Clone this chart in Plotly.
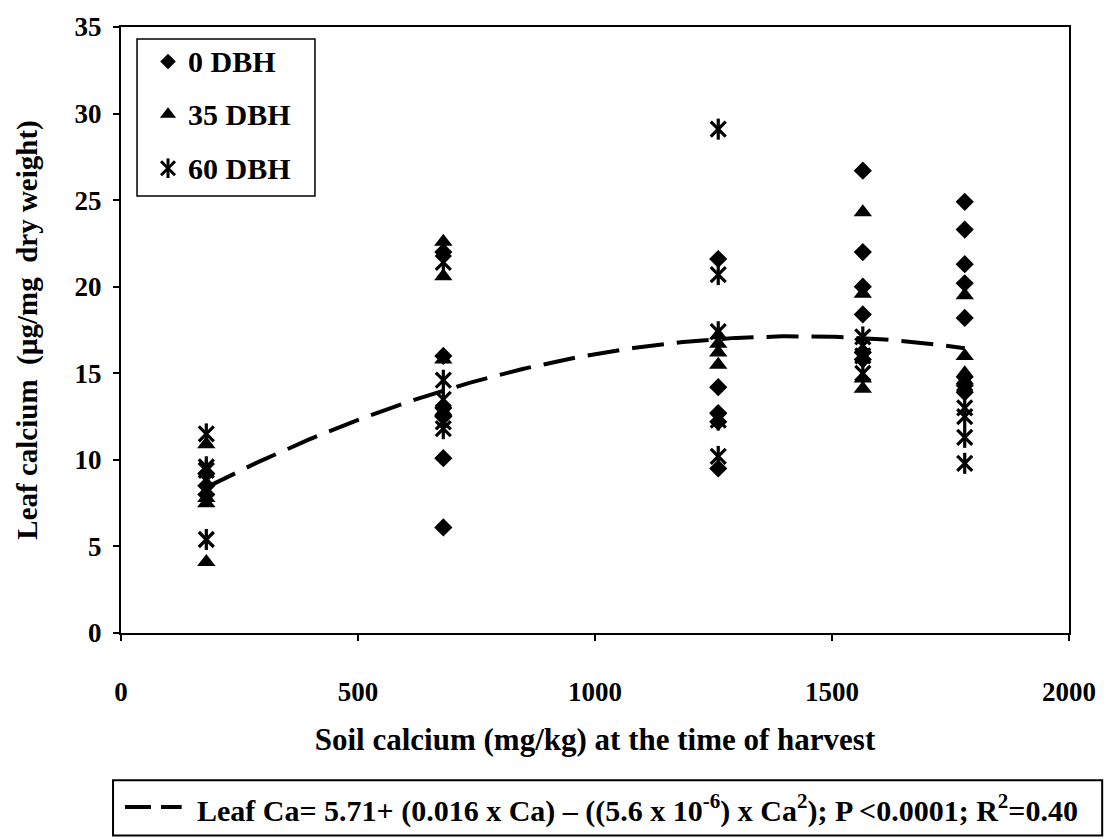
import numpy as np
import plotly.graph_objects as go

# Soil calcium levels (mg/kg) at harvest
soil_ca = [180, 680, 1260, 1565, 1780]

# Leaf calcium (ug/mg dry weight) per soil level, by days before harvest
dbh0 = {
    180: [8.0, 8.5, 9.2],
    680: [6.1, 10.1, 12.5, 13.0, 16.0, 22.0],
    1260: [9.5, 12.2, 12.7, 14.2, 21.6],
    1565: [15.8, 16.2, 18.4, 20.0, 22.0, 26.7],
    1780: [13.9, 14.3, 18.2, 20.2, 21.3, 23.3, 24.9],
}
dbh35 = {
    180: [4.1, 7.5, 7.8, 10.9],
    680: [12.8, 15.8, 20.6, 22.6],
    1260: [15.5, 16.2, 16.7, 17.2],
    1565: [14.1, 14.7, 19.6, 24.3],
    1780: [14.6, 15.0, 16.0, 19.5],
}
dbh60 = {
    180: [5.4, 9.4, 9.6, 11.5],
    680: [11.8, 12.2, 13.5, 14.6, 21.4],
    1260: [10.2, 12.3, 17.4, 20.7, 29.1],
    1565: [15.0, 16.0, 16.6, 17.1],
    1780: [9.8, 11.3, 12.5, 13.0, 14.4],
}

# Quadratic fit: Leaf Ca = b0 + b1*Ca - b2*Ca^2
b0, b1, b2 = 5.71, 0.016, 5.6e-6

legend_labels = ["0 DBH", "35 DBH", "60 DBH"]

FONT = "Liberation Serif"
BLACK = "#000000"


def flatten(d):
    xs, ys = [], []
    for k in soil_ca:
        for v in d[k]:
            xs.append(k)
            ys.append(v)
    return xs, ys


fig = go.Figure()

x0, y0 = flatten(dbh0)
x35, y35 = flatten(dbh35)
x60, y60 = flatten(dbh60)

# Fitted curve
fit_x = np.linspace(soil_ca[0], soil_ca[-1], 200)
fit_y = b0 + b1 * fit_x - b2 * fit_x ** 2
fig.add_trace(go.Scatter(x=fit_x, y=fit_y, mode="lines",
                         line=dict(color=BLACK, width=4, dash="32px,13px"),
                         showlegend=False, hoverinfo="skip"))

fig.add_trace(go.Scatter(x=x0, y=y0, mode="markers", name=legend_labels[0],
                         marker=dict(symbol="diamond", size=14, color=BLACK),
                         showlegend=False))
fig.add_trace(go.Scatter(x=x35, y=y35, mode="markers", name=legend_labels[1],
                         marker=dict(symbol="triangle-up", size=16, color=BLACK),
                         showlegend=False))
# Star marker built from an X plus a vertical bar
for sym in ["x-thin-open", "line-ns-open"]:
    fig.add_trace(go.Scatter(x=x60, y=y60, mode="markers", name=legend_labels[2],
                             marker=dict(symbol=sym, size=15, color=BLACK,
                                         line=dict(color=BLACK, width=3.2)),
                             showlegend=False))

# Legend drawn on an overlay axis spanning the plot area
leg_x = 0.0496
leg_y = [0.943, 0.856, 0.767]
fig.add_trace(go.Scatter(x=[leg_x], y=[leg_y[0]], xaxis="x2", yaxis="y2", mode="markers",
                         marker=dict(symbol="diamond", size=12, color=BLACK),
                         showlegend=False, hoverinfo="skip"))
fig.add_trace(go.Scatter(x=[leg_x], y=[leg_y[1]], xaxis="x2", yaxis="y2", mode="markers",
                         marker=dict(symbol="triangle-up", size=14, color=BLACK),
                         showlegend=False, hoverinfo="skip"))
for sym in ["x-thin-open", "line-ns-open"]:
    fig.add_trace(go.Scatter(x=[leg_x], y=[leg_y[2]], xaxis="x2", yaxis="y2", mode="markers",
                             marker=dict(symbol=sym, size=14, color=BLACK,
                                         line=dict(color=BLACK, width=3)),
                             showlegend=False, hoverinfo="skip"))

annotations = []
for lbl, yy in zip(legend_labels, leg_y):
    annotations.append(dict(x=0.0685, y=yy, xref="paper", yref="paper", text=f"<b>{lbl}</b>",
                            showarrow=False, xanchor="left", yanchor="middle",
                            font=dict(family=FONT, size=30, color=BLACK)))

annotations.append(dict(
    x=0.078, y=-0.289, xref="paper", yref="paper", showarrow=False,
    xanchor="left", yanchor="middle",
    text="<b>Leaf Ca= 5.71+ (0.016 x Ca) – ((5.6 x 10<sup>-6</sup>) x Ca<sup>2</sup>); "
         "P &lt;0.0001; R<sup>2</sup>=0.40</b>",
    font=dict(family=FONT, size=30, color=BLACK)))

shapes = [
    # legend box
    dict(type="rect", xref="paper", yref="paper", x0=0.0169, x1=0.2046, y0=0.721, y1=0.980,
         line=dict(color=BLACK, width=1.5), fillcolor="white", layer="below"),
    # equation box
    dict(type="rect", xref="paper", yref="paper", x0=-0.0084, x1=1.035, y0=-0.334, y1=-0.243,
         line=dict(color=BLACK, width=2)),
    # dashed line sample
    dict(type="line", xref="paper", yref="paper", x0=0.0042, x1=0.064, y0=-0.287, y1=-0.287,
         line=dict(color=BLACK, width=4, dash="26px,10px")),
]

fig.update_layout(
    width=1113, height=839,
    margin=dict(l=121, r=44, t=20, b=206),
    paper_bgcolor="white", plot_bgcolor="white",
    font=dict(family=FONT, color=BLACK, size=20),
    showlegend=False,
    annotations=annotations,
    shapes=shapes,
    xaxis=dict(
        range=[0, 2000], tickvals=[0, 500, 1000, 1500, 2000],
        ticktext=["<b>0</b>", "<b>500</b>", "<b>1000</b>", "<b>1500</b>", "<b>2000</b>"],
        ticks="outside", ticklen=6, tickwidth=1.5, tickcolor=BLACK,
        ticklabelstandoff=28,
        showline=True, linecolor=BLACK, linewidth=2, mirror=True,
        showgrid=False, zeroline=False,
        tickfont=dict(family=FONT, size=27, color=BLACK),
        title=dict(text="<b>Soil calcium (mg/kg) at the time of harvest</b>",
                   font=dict(family=FONT, size=31, color=BLACK), standoff=22),
    ),
    yaxis=dict(
        range=[0, 35], tickvals=[0, 5, 10, 15, 20, 25, 30, 35],
        ticktext=[f"<b>{v}</b>" for v in [0, 5, 10, 15, 20, 25, 30, 35]],
        ticks="outside", ticklen=6, tickwidth=1.5, tickcolor=BLACK,
        ticklabelstandoff=6,
        showline=True, linecolor=BLACK, linewidth=2, mirror=True,
        showgrid=False, zeroline=False,
        tickfont=dict(family=FONT, size=27, color=BLACK),
        title=dict(text="<b>Leaf calcium  (µg/mg  dry weight)</b>",
                   font=dict(family=FONT, size=29, color=BLACK), standoff=28),
    ),
    xaxis2=dict(overlaying="x", range=[0, 1], visible=False, anchor="y2"),
    yaxis2=dict(overlaying="y", range=[0, 1], visible=False, anchor="x2"),
)

fig.write_html("out.html")
